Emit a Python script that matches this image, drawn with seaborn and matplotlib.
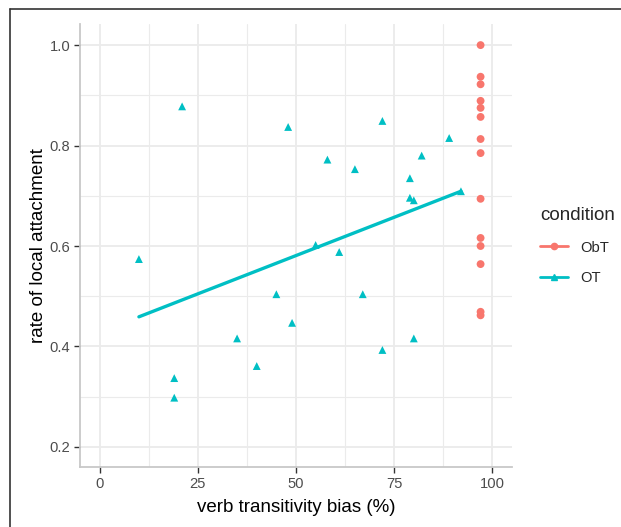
import numpy as np
import pandas as pd
import matplotlib
matplotlib.use("Agg")
import matplotlib.pyplot as plt
from matplotlib.lines import Line2D
from matplotlib.ticker import MultipleLocator
import seaborn as sns

# data
ot_bias = [10, 19, 19, 21, 35, 40, 45, 48, 49, 55, 58, 61, 65, 67, 72, 72,
           79, 79, 80, 80, 82, 89, 92]
ot_rate = [0.574, 0.337, 0.298, 0.878, 0.416, 0.361, 0.504, 0.837, 0.447,
           0.602, 0.772, 0.588, 0.753, 0.504, 0.849, 0.393, 0.735, 0.696,
           0.691, 0.416, 0.780, 0.815, 0.709]
obt_bias = [97] * 14
obt_rate = [1.0, 0.937, 0.922, 0.889, 0.875, 0.857, 0.813, 0.785, 0.694,
            0.616, 0.600, 0.564, 0.469, 0.462]
# fitted line for OT
fit_bias = [10, 92]
fit_rate = [0.459, 0.709]

conditions = ["ObT", "OT"]
colors = {"ObT": "#F8766D", "OT": "#00BFC4"}

df = pd.DataFrame({
    "bias": obt_bias + ot_bias,
    "rate": obt_rate + ot_rate,
    "condition": ["ObT"] * len(obt_bias) + ["OT"] * len(ot_bias),
})

sns.set_style("white")
plt.rcParams["font.family"] = ["Liberation Sans", "DejaVu Sans"]

fig = plt.figure(figsize=(6.21, 5.27), dpi=100)
ax = fig.add_axes([80 / 621, 1 - 467 / 527, 432 / 621, 443 / 527])

sns.scatterplot(data=df, x="bias", y="rate", hue="condition", style="condition",
                palette=colors, markers={"ObT": "o", "OT": "^"},
                hue_order=conditions, s=32, linewidth=0, legend=False, ax=ax, zorder=3)
sns.lineplot(x=fit_bias, y=fit_rate, color=colors["OT"], linewidth=2.4, ax=ax, zorder=4)

ax.set_xlim(-5, 105)
ax.set_ylim(0.16, 1.042)
ax.set_xticks([0, 25, 50, 75, 100])
ax.set_yticks([0.2, 0.4, 0.6, 0.8, 1.0])
ax.set_yticklabels(["0.2", "0.4", "0.6", "0.8", "1.0"])
ax.xaxis.set_minor_locator(MultipleLocator(12.5))
ax.yaxis.set_minor_locator(MultipleLocator(0.1))
ax.grid(True, which="major", color="#EBEBEB", linewidth=1.3)
ax.grid(True, which="minor", color="#EBEBEB", linewidth=0.8)
ax.set_axisbelow(True)

for side in ["top", "right"]:
    ax.spines[side].set_visible(False)
for side in ["left", "bottom"]:
    ax.spines[side].set_color("#C8C8C8")
    ax.spines[side].set_linewidth(1.3)

ax.tick_params(which="major", bottom=True, left=True, length=4, width=1,
               color="#333333", labelsize=10.6, labelcolor="#4D4D4D", pad=3)
ax.tick_params(which="minor", bottom=False, left=False, length=0)

ax.set_xlabel("verb transitivity bias (%)", fontsize=13.5, color="black", labelpad=6)
ax.set_ylabel("rate of local attachment", fontsize=13.5, color="black", labelpad=2)

handles = [Line2D([0], [0], color=colors["ObT"], marker="o", markersize=4.5, linewidth=2),
           Line2D([0], [0], color=colors["OT"], marker="^", markersize=5, linewidth=2)]
leg = fig.legend(handles, conditions, title="condition", loc="center left",
                 bbox_to_anchor=(527 / 621, 1 - 246 / 527), frameon=False,
                 fontsize=10.6, title_fontsize=13.5, handlelength=1.9,
                 labelspacing=1.1, handletextpad=0.8)
leg._legend_box.align = "left"

# screenshot frame
fig.add_artist(Line2D([10 / 621, 10 / 621], [0, 1 - 9 / 527], color="#333333",
                      linewidth=1.2, transform=fig.transFigure))
fig.add_artist(Line2D([10 / 621, 1], [1 - 9 / 527, 1 - 9 / 527], color="#333333",
                      linewidth=1.2, transform=fig.transFigure))

fig.savefig("out.png", dpi=100)
